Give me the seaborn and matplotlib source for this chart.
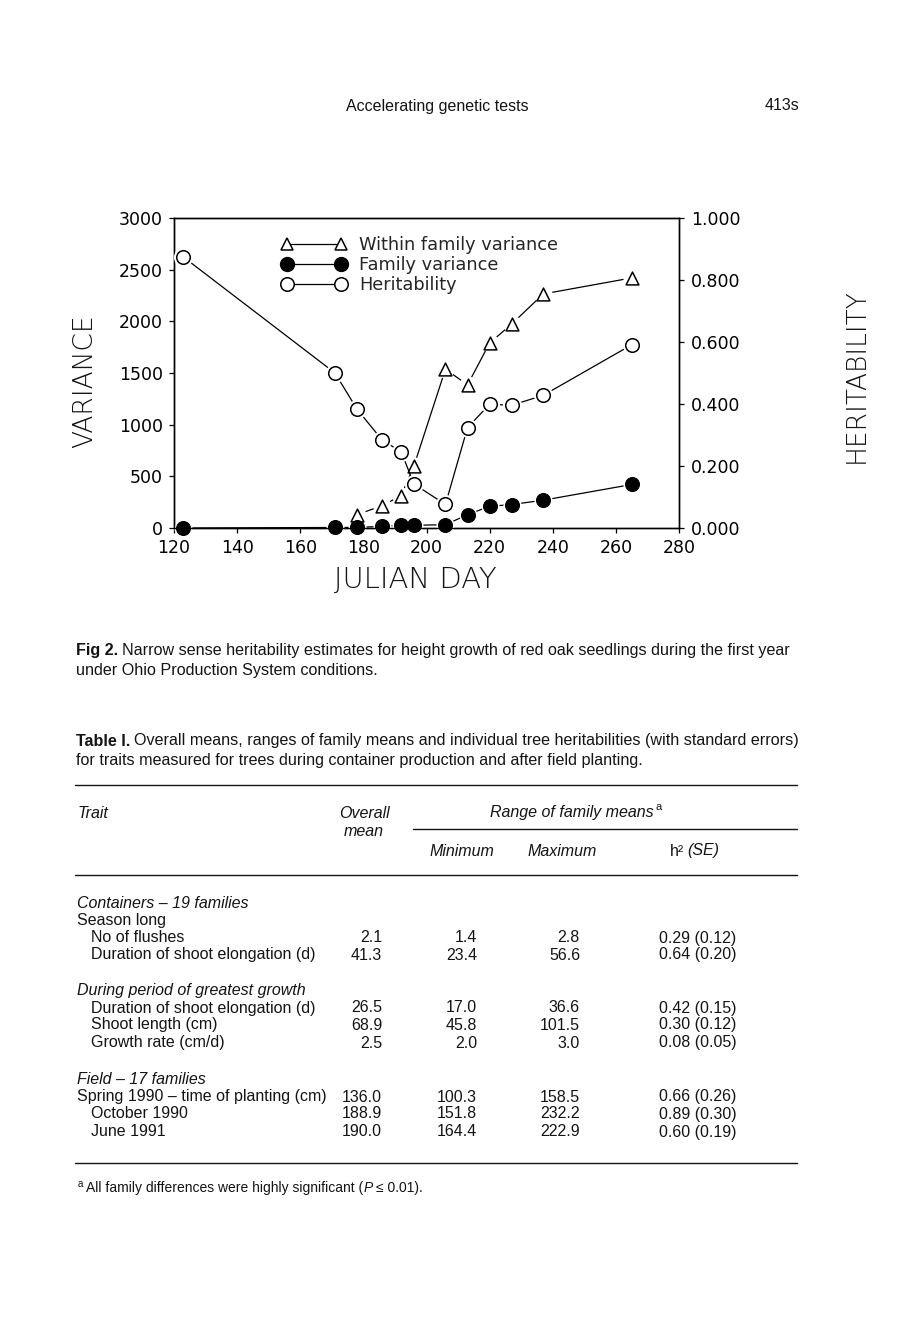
import numpy as np
import matplotlib
matplotlib.use('Agg')
import matplotlib.pyplot as plt
from matplotlib.lines import Line2D
from matplotlib.ticker import StrMethodFormatter
import seaborn as sns

# chart data
days = [123, 171, 178, 186, 192, 196, 206, 213, 220, 227, 237, 265]
heritability = [0.874, 0.500, 0.383, 0.283, 0.246, 0.142, 0.076, 0.324, 0.399, 0.396, 0.428, 0.591]
family_var = [0, 5, 6, 16, 26, 26, 32, 129, 210, 227, 269, 421]
within_days = [178, 186, 192, 196, 206, 213, 220, 227, 237, 265]
within_var = [129, 217, 314, 599, 1537, 1385, 1790, 1974, 2265, 2420]

var_ticks = [0, 500, 1000, 1500, 2000, 2500, 3000]
h_ticks = [0.0, 0.2, 0.4, 0.6, 0.8, 1.0]
day_ticks = [120, 140, 160, 180, 200, 220, 240, 260, 280]

# table data
trait_rows = ["No of flushes", "Duration of shoot elongation (d)",
              "Duration of shoot elongation (d)", "Shoot length (cm)", "Growth rate (cm/d)",
              "Spring 1990 \u2013 time of planting (cm)", "October 1990", "June 1991"]
overall_mean = [2.1, 41.3, 26.5, 68.9, 2.5, 136.0, 188.9, 190.0]
family_min = [1.4, 23.4, 17.0, 45.8, 2.0, 100.3, 151.8, 164.4]
family_max = [2.8, 56.6, 36.6, 101.5, 3.0, 158.5, 232.2, 222.9]
h2 = [0.29, 0.64, 0.42, 0.30, 0.08, 0.66, 0.89, 0.60]
h2_se = [0.12, 0.20, 0.15, 0.12, 0.05, 0.26, 0.30, 0.19]
group_rows = [("Containers \u2013 19 families", 'italic'), ("Season long", 'normal'),
              ("During period of greatest growth", 'italic'), ("Field \u2013 17 families", 'italic')]

W, H = 909, 1333
TXT = 'Liberation Sans'
INK = '#141414'

sns.set_style('ticks')
plt.rcParams['font.family'] = ['DejaVu Sans']

fig = plt.figure(figsize=(W / 100, H / 100), dpi=100)
renderer = fig.canvas.get_renderer()


def put(x, y, s, size=11.5, ha='left', style='normal', weight='normal', family=TXT, **kw):
    return fig.text(x / W, 1 - y / H, s, ha=ha, va='center', fontsize=size, fontstyle=style,
                    fontweight=weight, family=family, color=INK, **kw)


def chain(x, y, parts, size=11.5):
    # place text pieces one after another on one line
    for s, style, weight, gap in parts:
        t = put(x, y, s, size=size, style=style, weight=weight)
        bb = t.get_window_extent(renderer)
        x = bb.x1 + gap


def rule(x0, x1, y, lw=1.0):
    fig.add_artist(Line2D([x0 / W, x1 / W], [1 - y / H, 1 - y / H], transform=fig.transFigure,
                          color=INK, lw=lw))


# ---- chart ----
ax = fig.add_axes([174 / W, 1 - 528 / H, 505 / W, 310 / H])
ax2 = ax.twinx()

sns.lineplot(x=days, y=family_var, ax=ax, color='black', lw=0.9, errorbar=None, zorder=2)
sns.lineplot(x=within_days, y=within_var, ax=ax, color='black', lw=0.9, errorbar=None, zorder=2)
sns.lineplot(x=days, y=heritability, ax=ax2, color='black', lw=0.9, errorbar=None, zorder=2)

# white halos so the lines stop short of the symbols
sns.scatterplot(x=within_days, y=within_var, ax=ax, s=170, color='white', linewidth=0, zorder=3, clip_on=False)
sns.scatterplot(x=days, y=family_var, ax=ax, s=170, color='white', linewidth=0, zorder=3, clip_on=False)
sns.scatterplot(x=days, y=heritability, ax=ax2, s=190, color='white', linewidth=0, zorder=3, clip_on=False)

sns.scatterplot(x=within_days, y=within_var, ax=ax, marker='^', s=85, color='white',
                edgecolor='black', linewidth=1.1, zorder=4, clip_on=False)
sns.scatterplot(x=days, y=family_var, ax=ax, marker='o', s=100, color='black',
                edgecolor='black', linewidth=0.8, zorder=4, clip_on=False)
sns.scatterplot(x=days, y=heritability, ax=ax2, marker='o', s=95, color='white',
                edgecolor='black', linewidth=1.1, zorder=4, clip_on=False)

ax.set_xlim(120, 280)
ax.set_ylim(0, 3000)
ax2.set_ylim(0, 1)
ax.set_xticks(day_ticks)
ax.set_yticks(var_ticks)
ax2.set_yticks(h_ticks)
ax2.yaxis.set_major_formatter(StrMethodFormatter('{x:.3f}'))
for a in (ax, ax2):
    a.set_xlabel('')
    a.set_ylabel('')
    for sp in a.spines.values():
        sp.set_color('black')
        sp.set_linewidth(1.0)
ax.tick_params(axis='both', direction='out', length=3.6, width=0.9, labelsize=12.5, pad=4.5,
               colors='black')
ax2.tick_params(axis='y', direction='out', length=3.6, width=0.9, labelsize=12.5, pad=5,
                colors='black')

handles = [
    Line2D([], [], color='black', lw=0.9, marker='^', ms=9, mfc='white', mec='black', mew=1.1),
    Line2D([], [], color='black', lw=0.9, marker='o', ms=10, mfc='black', mec='black'),
    Line2D([], [], color='black', lw=0.9, marker='o', ms=9.7, mfc='white', mec='black', mew=1.1),
]
ax2.legend(handles, ['Within family variance', 'Family variance', 'Heritability'],
           loc='upper left', bbox_to_anchor=(282 / W, 1 - 236 / H), bbox_transform=fig.transFigure,
           frameon=False, numpoints=2, handlelength=3.6, handletextpad=0.75, labelspacing=0.12,
           borderpad=0, borderaxespad=0, fontsize=12.8)

put(85, 381, 'VARIANCE', size=19, ha='center', family='DejaVu Sans', rotation=90, weight='light')
put(856, 376, 'HERITABILITY', size=19, ha='center', family='DejaVu Sans', rotation=90, weight='light')
put(415, 580, 'JULIAN DAY', size=21, ha='center', family='DejaVu Sans', weight='light')

# ---- page text ----
put(437, 107, 'Accelerating genetic tests', ha='center')
put(799, 105, '413s', ha='right')

chain(76, 651, [('Fig 2.', 'normal', 'bold', 4),
                ('Narrow sense heritability estimates for height growth of red oak seedlings '
                 'during the first year', 'normal', 'normal', 0)], size=11.6)
put(76, 671, 'under Ohio Production System conditions.', size=11.6)

chain(76, 741, [('Table I.', 'normal', 'bold', 4),
                ('Overall means, ranges of family means and individual tree heritabilities '
                 '(with standard errors)', 'normal', 'normal', 0)], size=11.6)
put(76, 760, 'for traits measured for trees during container production and after field planting.', size=11.6)

rule(75, 797, 785)
put(78, 813, 'Trait', style='italic')
put(364, 813, 'Overall', style='italic', ha='center')
put(364, 831, 'mean', style='italic', ha='center')
put(490, 813, 'Range of family means', style='italic')
put(655, 807, 'a', size=8)
rule(413, 797, 829)
put(462, 851, 'Minimum', style='italic', ha='center')
put(562, 851, 'Maximum', style='italic', ha='center')
chain(670, 851, [('h\u00b2', 'normal', 'normal', 3), ('(SE)', 'italic', 'normal', 0)])
rule(75, 797, 875)

group_y = [903, 921, 991, 1079]
for (label, style), y in zip(group_rows, group_y):
    put(77, y, label, style=style)

row_y = [938, 955, 1008, 1025, 1043, 1097, 1114, 1132]
row_x = [91, 91, 91, 91, 91, 77, 91, 91]
for i, y in enumerate(row_y):
    put(row_x[i], y, trait_rows[i])
    put(382, y, f'{overall_mean[i]:.1f}', ha='right')
    put(477, y, f'{family_min[i]:.1f}', ha='right')
    put(580, y, f'{family_max[i]:.1f}', ha='right')
    put(659, y, f'{h2[i]:.2f} ({h2_se[i]:.2f})')

rule(75, 797, 1163)
put(78, 1184, 'a', size=7)
chain(86, 1188, [('All family differences were highly significant (', 'normal', 'normal', 0.5),
                 ('P', 'italic', 'normal', 3),
                 ('\u2264 0.01).', 'normal', 'normal', 0)], size=10)

fig.savefig('out.png', dpi=100, facecolor='white')
